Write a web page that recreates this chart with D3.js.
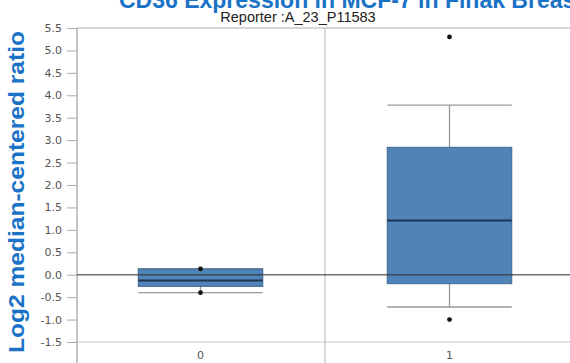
<!DOCTYPE html>
<html>
<head>
<meta charset="utf-8">
<script src="https://cdn.jsdelivr.net/npm/d3@7"></script>
<style>
  body { margin: 0; background: #fff; }
  svg { display: block; }
</style>
</head>
<body>
<svg id="chart" width="570" height="363"></svg>
<script>
// data
const categories = ["0", "1"];
const q1 = [-0.26, -0.2];
const medians = [-0.13, 1.21];
const q3 = [0.13, 2.84];
const whiskerLow = [-0.4, -0.72];
const whiskerHigh = [0.13, 3.78];
const outliers = [[0.13, -0.4], [5.3, -1.0]];
const yTicks = [5.5, 5.0, 4.5, 4.0, 3.5, 3.0, 2.5, 2.0, 1.5, 1.0, 0.5, 0.0, -0.5, -1.0, -1.5];

const svg = d3.select('#chart');
const plotLeft = 77, plotTop = 28, plotBottom = 342;

const x = d3.scaleBand().domain(categories).range([76, 574]);
const y = d3.scaleLinear().domain([-1.5, 5.5]).range([plotBottom, plotTop]);

// title (cropped at the top like the reference)
svg.append('text')
  .attr('x', 119).attr('y', 8)
  .attr('font-family', 'Liberation Sans, Arial, sans-serif')
  .attr('font-weight', 'bold').attr('font-size', 23)
  .attr('fill', '#1a73c6')
  .text('CD36 Expression in MCF-7 in Finak Breast');

svg.append('text')
  .attr('x', 298).attr('y', 22)
  .attr('text-anchor', 'middle')
  .attr('font-family', 'Liberation Sans, Arial, sans-serif')
  .attr('font-size', 14.5).attr('fill', '#222')
  .text('Reporter :A_23_P11583');

// y axis label
svg.append('text')
  .attr('transform', 'translate(24,192) rotate(-90)')
  .attr('text-anchor', 'middle')
  .attr('font-family', 'Liberation Sans, Arial, sans-serif')
  .attr('font-weight', 'bold').attr('font-size', 22)
  .attr('textLength', 322).attr('lengthAdjust', 'spacingAndGlyphs')
  .attr('fill', '#1a73c6')
  .text('Log2 median-centered ratio');

// frame
svg.append('line').attr('x1', plotLeft).attr('x2', 570).attr('y1', plotTop).attr('y2', plotTop)
  .attr('stroke', '#b0b0b0').attr('stroke-width', 1.2);
svg.append('line').attr('x1', plotLeft).attr('x2', 570).attr('y1', plotBottom).attr('y2', plotBottom)
  .attr('stroke', '#c8c8c8').attr('stroke-width', 1.2);
svg.append('line').attr('x1', plotLeft).attr('x2', plotLeft).attr('y1', plotTop).attr('y2', 363)
  .attr('stroke', '#a0a0a0').attr('stroke-width', 1.2);
svg.append('line').attr('x1', x('1')).attr('x2', x('1')).attr('y1', plotTop).attr('y2', 363)
  .attr('stroke', '#c0c0c0').attr('stroke-width', 1.2);

// y axis
const yAxis = d3.axisLeft(y).tickValues(yTicks).tickFormat(d3.format('.1f')).tickSize(10).tickPadding(5);
const ya = svg.append('g').attr('transform', `translate(${plotLeft},0)`).call(yAxis);
ya.select('.domain').remove();
ya.selectAll('.tick line').attr('stroke', '#aaa');
ya.selectAll('.tick text')
  .attr('font-family', 'DejaVu Sans, sans-serif').attr('font-size', 11).attr('fill', '#555')
  .text(d => d3.format('.1f')(d).replace('\u2212', '-'));

// category labels
svg.selectAll('.cat').data(categories).enter().append('text')
  .attr('x', d => x(d) + x.bandwidth() / 2).attr('y', 359)
  .attr('text-anchor', 'middle')
  .attr('font-family', 'DejaVu Sans, sans-serif').attr('font-size', 11).attr('fill', '#555')
  .text(d => d);

// boxes
const boxW = x.bandwidth() * 0.5;
const g = svg.selectAll('.box').data(categories).enter().append('g')
  .attr('transform', d => `translate(${x(d) + x.bandwidth() / 2},0)`);

g.append('line')
  .attr('y1', (d, i) => y(whiskerLow[i])).attr('y2', (d, i) => y(whiskerHigh[i]))
  .attr('stroke', '#999').attr('stroke-width', 1.3);
g.append('line').attr('x1', -boxW / 2).attr('x2', boxW / 2)
  .attr('y1', (d, i) => y(whiskerLow[i])).attr('y2', (d, i) => y(whiskerLow[i]))
  .attr('stroke', '#999').attr('stroke-width', 1.3);
g.append('line').attr('x1', -boxW / 2).attr('x2', boxW / 2)
  .attr('y1', (d, i) => y(whiskerHigh[i])).attr('y2', (d, i) => y(whiskerHigh[i]))
  .attr('stroke', '#999').attr('stroke-width', 1.3);
g.append('rect')
  .attr('x', -boxW / 2).attr('width', boxW)
  .attr('y', (d, i) => y(q3[i])).attr('height', (d, i) => y(q1[i]) - y(q3[i]))
  .attr('fill', '#5083b8').attr('stroke', '#3d6690').attr('stroke-width', 1);
g.append('line').attr('x1', -boxW / 2).attr('x2', boxW / 2)
  .attr('y1', (d, i) => y(medians[i])).attr('y2', (d, i) => y(medians[i]))
  .attr('stroke', '#1d3550').attr('stroke-width', 2);
g.selectAll('circle').data((d, i) => outliers[i]).enter().append('circle')
  .attr('cy', v => y(v)).attr('r', 2.4).attr('fill', '#111');

// zero reference line
svg.append('line').attr('x1', plotLeft).attr('x2', 570).attr('y1', y(0)).attr('y2', y(0))
  .attr('stroke', '#333').attr('stroke-opacity', 0.7).attr('stroke-width', 1.4);
</script>
</body>
</html>
